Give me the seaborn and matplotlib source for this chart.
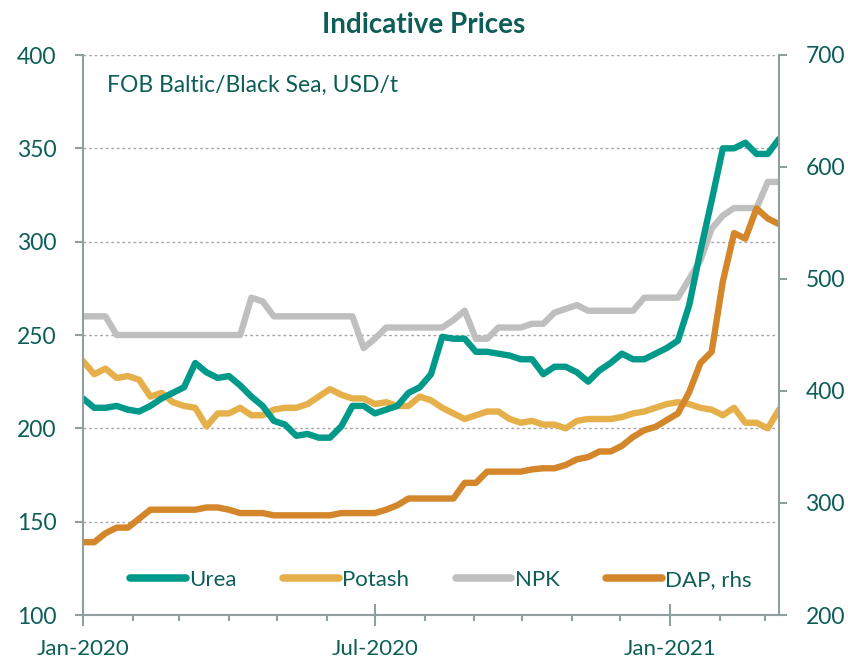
import matplotlib
matplotlib.use("Agg")
import matplotlib.dates as mdates
import matplotlib.pyplot as plt
from matplotlib.lines import Line2D
import pandas as pd
import seaborn as sns

# Weekly FOB Baltic/Black Sea prices, USD/t
weeks = pd.date_range("2020-01-01", periods=63, freq="7D")

urea = [216, 211, 211, 212, 210, 209, 212, 216, 219, 222,
        235, 230, 227, 228, 223, 217, 212, 204, 202, 196,
        197, 195, 195, 201, 212, 212, 208, 210, 212, 219,
        222, 229, 249, 248, 248, 241, 241, 240, 239, 237,
        237, 229, 233, 233, 230, 225, 231, 235, 240, 237,
        237, 240, 243, 247, 266, 295, 322, 350, 350, 353,
        347, 347, 355]

potash = [236, 229, 232, 227, 228, 226, 217, 219, 214, 212,
          211, 201, 208, 208, 211, 207, 207, 210, 211, 211,
          213, 217, 221, 218, 216, 216, 213, 214, 212, 212,
          217, 215, 211, 208, 205, 207, 209, 209, 205, 203,
          204, 202, 202, 200, 204, 205, 205, 205, 206, 208,
          209, 211, 213, 214, 213, 211, 210, 207, 211, 203,
          203, 200, 210]

npk = [260, 260, 260, 250, 250, 250, 250, 250, 250, 250,
       250, 250, 250, 250, 250, 270, 268, 260, 260, 260,
       260, 260, 260, 260, 260, 243, 248, 254, 254, 254,
       254, 254, 254, 258, 263, 248, 248, 254, 254, 254,
       256, 256, 262, 264, 266, 263, 263, 263, 263, 263,
       270, 270, 270, 270, 280, 290, 307, 314, 318, 318,
       318, 332, 332]

dap = [265, 265, 273, 278, 278, 286, 294, 294, 294, 294,
       294, 296, 296, 294, 291, 291, 291, 289, 289, 289,
       289, 289, 289, 291, 291, 291, 291, 294, 298, 304,
       304, 304, 304, 304, 318, 318, 328, 328, 328, 328,
       330, 331, 331, 334, 339, 341, 346, 346, 351, 359,
       365, 368, 374, 380, 399, 425, 435, 498, 541, 536,
       563, 554, 549]

series_names = ["Urea", "Potash", "NPK", "DAP, rhs"]
colors = {"Urea": "#00998a", "Potash": "#e5b04a", "NPK": "#bfbfbf", "DAP, rhs": "#d4862a"}
text_color = "#0d5e57"
spine_color = "#8fa09e"
lw = 4.6

sns.set_style("white")
plt.rcParams["font.family"] = ["Lato", "DejaVu Sans"]

df = pd.DataFrame({"week": weeks, "Urea": urea, "Potash": potash, "NPK": npk, "DAP": dap})

fig = plt.figure(figsize=(8.48, 6.59), dpi=100)
ax = fig.add_axes([83 / 848, 1 - 615 / 659, 696 / 848, 560 / 659])
ax2 = ax.twinx()

# Left-axis series (grey first so the others sit on top)
for col, name in [("NPK", "NPK"), ("Potash", "Potash"), ("Urea", "Urea")]:
    sns.lineplot(data=df, x="week", y=col, color=colors[name], lw=lw,
                 solid_capstyle="round", solid_joinstyle="round", ax=ax)
# DAP on right axis
sns.lineplot(data=df, x="week", y="DAP", color=colors["DAP, rhs"], lw=lw,
             solid_capstyle="round", solid_joinstyle="round", ax=ax2)

ax.set_xlim(weeks[0], weeks[-1])
ax.set_ylim(100, 400)
ax2.set_ylim(200, 700)
ax.set_yticks(range(100, 401, 50))
ax2.set_yticks(range(200, 701, 100))

ax.set_xlabel("")
ax.set_ylabel("")
ax2.set_ylabel("")

# Dotted horizontal gridlines
ax.yaxis.grid(True, linestyle=(0, (2, 2)), color="#a8a8a8", lw=1)
ax.set_axisbelow(True)

# Date axis: monthly minor ticks, Jan/Jul labels
ax.xaxis.set_major_locator(mdates.MonthLocator(bymonth=[1, 7]))
ax.xaxis.set_minor_locator(mdates.MonthLocator())
ax.xaxis.set_major_formatter(mdates.DateFormatter("%b-%Y"))

for a in (ax, ax2):
    for s in a.spines.values():
        s.set_color(spine_color)
        s.set_linewidth(1.5)
    a.spines["top"].set_visible(False)
ax.spines["right"].set_visible(False)
ax2.spines["left"].set_visible(False)
ax2.spines["bottom"].set_visible(False)

ax.tick_params(axis="y", left=True, direction="out", length=6, width=1.5,
               color=spine_color, labelcolor=text_color, labelsize=16.5, pad=13)
ax2.tick_params(axis="y", right=True, direction="out", length=6, width=1.5,
                color=spine_color, labelcolor=text_color, labelsize=16.5, pad=13)
ax.tick_params(axis="x", which="major", bottom=True, direction="inout", length=16, width=1.5,
               color=spine_color, labelcolor=text_color, labelsize=16, pad=9)
ax.tick_params(axis="x", which="minor", bottom=True, direction="out", length=4, width=1.5,
               color=spine_color)

ax.text(0.034, 0.945, "FOB Baltic/Black Sea, USD/t", transform=ax.transAxes,
        ha="left", va="center", fontsize=16.5, color=text_color)

fig.text(0.5, 1 - 25 / 659, "Indicative Prices", ha="center", va="center",
         fontsize=20, fontweight="bold", color=text_color)

handles = [Line2D([0], [0], color=colors[n], lw=lw + 0.8, solid_capstyle="round")
           for n in series_names]
leg = ax2.legend(handles, series_names, loc="center", bbox_to_anchor=(0.514, 0.0625),
                 ncol=4, frameon=False, fontsize=16, handlelength=2.5,
                 handletextpad=0.15, columnspacing=2.1)
for t in leg.get_texts():
    t.set_color(text_color)

fig.savefig("out.png", dpi=100)
plt.close(fig)
